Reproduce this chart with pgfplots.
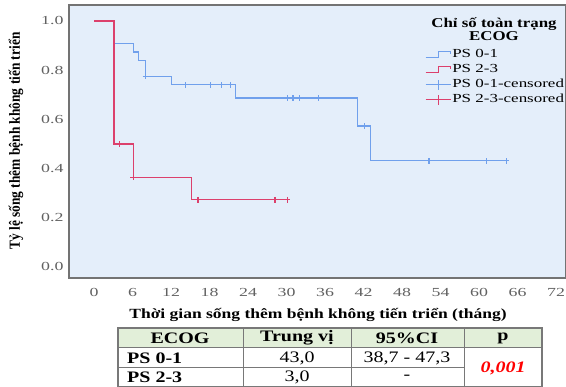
\documentclass[border=0pt]{standalone}
\usepackage{fontspec}
\setmainfont{Liberation Serif}[FakeStretch=1.25]
\newfontfamily\yfont{Liberation Serif}
\newfontfamily\tickfont{Liberation Serif}[FakeStretch=1.45]
\newfontfamily\legfont{Liberation Serif}[FakeStretch=1.38]
\usepackage{graphicx}
\usepackage{pgfplots}
\pgfplotsset{compat=1.18}
\definecolor{bgblue}{RGB}{228,238,250}
\definecolor{kmblue}{RGB}{112,160,236}
\definecolor{kmred}{RGB}{220,64,108}
\definecolor{hdrgreen}{RGB}{226,239,217}
\definecolor{tblline}{RGB}{120,120,120}
\begin{document}
\begin{tikzpicture}[x=1pt,y=1pt]
\useasboundingbox (0,0) rectangle (566,387);
\begin{axis}[
  at={(69pt,109pt)}, anchor=south west,
  scale only axis, width=497pt, height=273pt,
  xmin=-3.9, xmax=73.55, ymin=-0.045, ymax=1.065,
  xtick={0,6,12,18,24,30,36,42,48,54,60,66,72},
  ytick={0,0.2,0.4,0.6,0.8,1.0},
  yticklabel style={xshift=-2pt, /pgf/number format/.cd, fixed, fixed zerofill, precision=1},
  /pgf/number format/assume math mode=true,
  tick style={draw=none},
  ticklabel style={font=\tickfont\fontsize{12.3}{12}\selectfont, text=black!62},
  xticklabel style={yshift=-6.5pt},
  axis background/.style={fill=bgblue},
  axis line style={draw=black!55, line width=1.1pt},
  legend style={draw=none, fill=none, at={(0.716,0.846)}, anchor=north west,
    inner sep=0pt, row sep=1.2pt,
    nodes={inner sep=1pt, font=\legfont\fontsize{12.3}{12}\selectfont, text height=9pt, text depth=3pt}},
  legend cell align=left,
]
% PS 0-1 Kaplan-Meier curve
\addplot[color=kmblue, line width=1.1pt, const plot mark left,
  legend image code/.code={\draw[kmblue, line width=1.1pt] (0pt,-3pt)--(13pt,-3pt)--(13pt,3pt)--(25pt,3pt)--(25pt,0pt);}]
  coordinates {(0,1.0) (3.1,0.909) (6.1,0.874) (7.0,0.840) (8.0,0.776) (12.1,0.740) (22.1,0.687) (41.1,0.573) (43.1,0.431) (64.3,0.431)};
\addlegendentry{PS 0-1}
% PS 2-3 Kaplan-Meier curve
\addplot[color=kmred, line width=1.25pt, const plot mark left,
  legend image code/.code={\draw[kmred, line width=1.25pt] (0pt,-3pt)--(13pt,-3pt)--(13pt,3pt)--(25pt,3pt)--(25pt,0pt);}]
  coordinates {(0,1.0) (3.1,0.500) (6.1,0.364) (15.2,0.273) (30.1,0.273)};
\addlegendentry{PS 2-3}
% censored marks
\addplot[only marks, mark=+, mark size=2.8pt, mark options={draw=kmblue, line width=1.1pt},
  legend image code/.code={\draw[kmblue, line width=1.1pt] (0pt,0pt)--(25pt,0pt); \draw[kmblue, line width=1.1pt] (12.5pt,-5pt)--(12.5pt,5pt);}]
  coordinates {(8.0,0.776) (14.2,0.740) (18.1,0.740) (19.9,0.740) (21.2,0.740) (30.1,0.687) (31.0,0.687) (32.0,0.687) (35.0,0.687) (42.2,0.573) (52.2,0.431) (61.2,0.431) (64.3,0.431)};
\addlegendentry{PS 0-1-censored}
\addplot[only marks, mark=+, mark size=2.8pt, mark options={draw=kmred, line width=1.25pt},
  legend image code/.code={\draw[kmred, line width=1.25pt] (0pt,0pt)--(25pt,0pt); \draw[kmred, line width=1.25pt] (12.5pt,-5pt)--(12.5pt,5pt);}]
  coordinates {(4.0,0.500) (6.1,0.364) (16.2,0.273) (28.2,0.273) (30.1,0.273)};
\addlegendentry{PS 2-3-censored}
\end{axis}
% legend title
\node[font=\bfseries\fontsize{13.5}{13}\selectfont, align=center] at (494,358) {Chỉ số toàn trạng\\ECOG};
% axis titles
\node[font=\bfseries\fontsize{14}{14}\selectfont] at (318,72) {Thời gian sống thêm bệnh không tiến triển (tháng)};
\node[rotate=90, font=\yfont\bfseries\fontsize{13.4}{14}\selectfont] at (16,246) {\scalebox{1}[1.15]{Tỷ lệ sống thêm bệnh không tiến triển}};
% summary table
\fill[hdrgreen] (118,39) rectangle (542,59);
\draw[tblline, line width=1.2pt] (118,0.5) rectangle (542,59);
\draw[tblline, line width=1pt] (118,39) -- (542,39);
\draw[tblline, line width=1pt] (118,19) -- (464,19);
\draw[tblline, line width=1pt] (243,0.5) -- (243,59) (351,0.5) -- (351,59) (464,0.5) -- (464,59);
\begin{scope}[every node/.style={font=\fontsize{16}{16}\selectfont, inner sep=0pt}]
\node[font=\bfseries\fontsize{16}{16}\selectfont] at (180,49) {ECOG};
\node[font=\bfseries\fontsize{16}{16}\selectfont] at (297,49) {Trung vị};
\node[font=\bfseries\fontsize{16}{16}\selectfont] at (407,49) {95\%CI};
\node[font=\bfseries\fontsize{16}{16}\selectfont] at (503,49) {p};
\node[anchor=west, font=\bfseries\fontsize{16}{16}\selectfont] at (127,29) {PS 0-1};
\node at (297,29) {43,0};
\node at (407,29) {38,7 - 47,3};
\node[anchor=west, font=\bfseries\fontsize{16}{16}\selectfont] at (127,9.5) {PS 2-3};
\node at (297,9.5) {3,0};
\node at (407,9.5) {-};
\node[text=red, font=\bfseries\itshape\fontsize{16}{16}\selectfont] at (503,19) {0,001};
\end{scope}
\end{tikzpicture}
\end{document}
